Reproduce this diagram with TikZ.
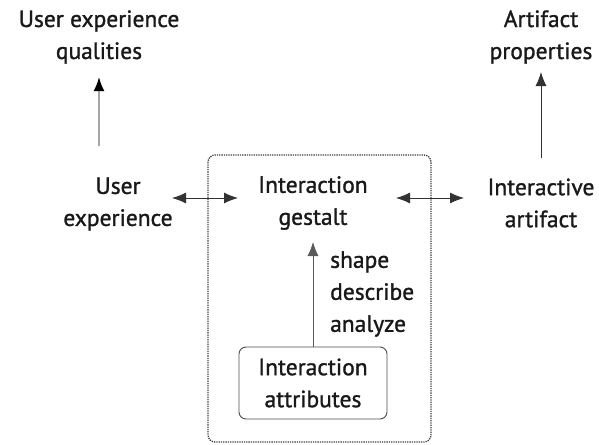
\documentclass[tikz,border=0pt]{standalone}
\usepackage{fontspec}
\setmainfont{PT Sans}[BoldFont=PT Sans,BoldFeatures={FakeBold=1.2}]
\usetikzlibrary{arrows.meta}
\begin{document}
\begin{tikzpicture}
[x=1pt,y=-1pt,>={Latex[length=14pt,width=11pt]}]
\tikzstyle{text node}=[align=center,inner sep=0,text=black!90,font=\fontsize{23.5}{32}\selectfont\bfseries]
\tikzstyle{attr box}=[text node,draw=black!70,line width=0.9,rounded corners=7,minimum width=148,minimum height=72]
\useasboundingbox (0,0) rectangle (599,444);

% outer dotted frame
\draw[black!75,densely dotted,line width=1.3,rounded corners=7] (208,155) rectangle (431,442);

\node(qual)[text node] at (99,37) {User experience\\qualities};
\node(props)[text node] at (541,37) {Artifact\\properties};
\node(ux)[text node] at (118,204) {User\\experience};
\node(gest)[text node] at (313,203) {Interaction\\gestalt};
\node(art)[text node] at (541,203) {Interactive\\artifact};
\node(attr)[attr box] at (313,383) {Interaction\\attributes};
\node(verbs)[text node,align=left,anchor=west] at (330,294) {shape\\describe\\analyze};

\coordinate(uxr) at (172,198);
\coordinate(gl) at (238,198);
\coordinate(gr) at (396,198);
\coordinate(arl) at (464,198);

\draw[-{Latex[length=14pt,width=11pt,color=black]},black!35,line width=2] (99,146) -- (99,77);
\draw[->,black!80,line width=0.9] (541,158) -- (541,72);
\draw[<->,black!80,line width=0.9] (uxr) -- (gl);
\draw[<->,black!80,line width=0.9] (gr) -- (arl);
\draw[->,black!65,line width=0.9] (attr.north) -- (313,242);
\end{tikzpicture}
\end{document}
